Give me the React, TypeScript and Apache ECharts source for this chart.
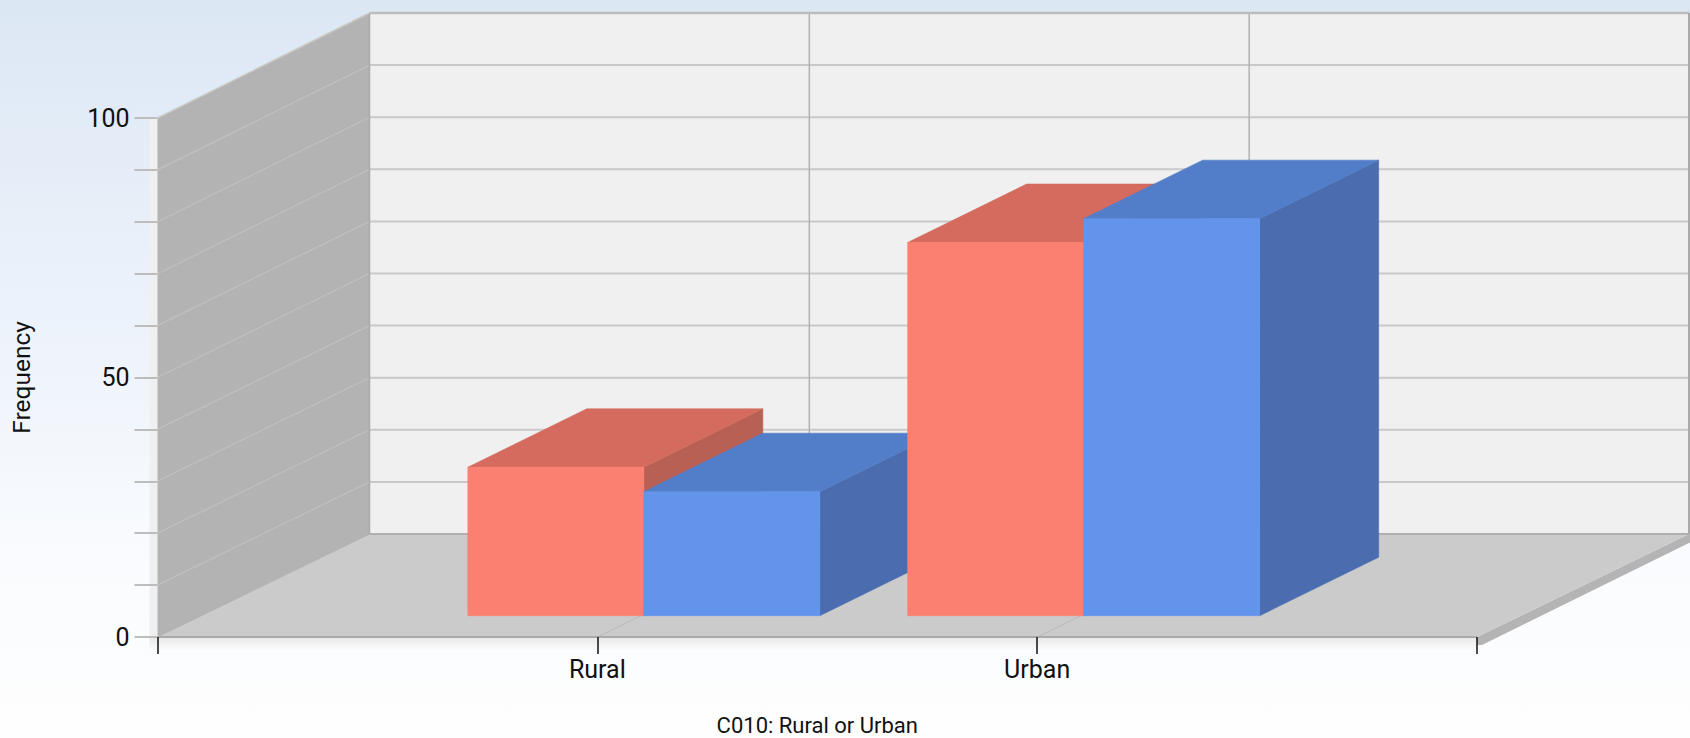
import React, { useEffect, useRef } from "react";
import * as echarts from "echarts";

const categories = ["", "Rural", "Urban", ""];
const yTickValues = [10, 20, 30, 40, 50, 60, 70, 80, 90];
const redValues = [28.6, 71.9];
const blueValues = [23.9, 76.5];

const WALL_DX = 212;
const WALL_DY_TOP = -105;
const WALL_DY_BOTTOM = -103;
const BAR_HALF = 176;
const BAR_SHIFT_X = 46.5;
const BAR_SHIFT_Y = -21.3;
const BAR_DX = 119;
const BAR_DY = -58.5;
const FONT = "Roboto, 'Liberation Sans', Arial, sans-serif";

function renderFrame(_p: any, api: any) {
  const [x0, y0] = api.coord([0, 0]);
  const [x1, y1] = api.coord([3, 100]);
  const dx = WALL_DX;
  const dt = WALL_DY_TOP;
  const db = WALL_DY_BOTTOM;
  const poly = (points: number[][], fill: string) => ({ type: "polygon", shape: { points }, style: { fill, stroke: "none" } });
  const line = (a: number[], b: number[], stroke: string, lineWidth: number) => ({
    type: "line",
    shape: { x1: a[0], y1: a[1], x2: b[0], y2: b[1] },
    style: { stroke, lineWidth, fill: "none" },
  });
  const children: any[] = [];
  // pale front edge strip and shadow under the floor
  children.push({ type: "rect", shape: { x: x0 - 8, y: y1, width: 8, height: y0 - y1 + 12 }, style: { fill: "#f0f0f0" } });
  children.push({
    type: "rect",
    shape: { x: x0 - 8, y: y0, width: x1 - x0 + 8, height: 12 },
    style: {
      fill: new echarts.graphic.LinearGradient(0, 0, 0, 1, [
        { offset: 0, color: "#e8e8e8" },
        { offset: 1, color: "#fafafa" },
      ]),
    },
  });
  // back wall
  children.push(poly([[x0 + dx, y1 + dt], [x1 + dx, y1 + dt], [x1 + dx, y0 + db], [x0 + dx, y0 + db]], "#f0f0f0"));
  // left wall
  children.push(poly([[x0, y1], [x0 + dx, y1 + dt], [x0 + dx, y0 + db], [x0, y0]], "#b3b3b3"));
  // floor edge and floor
  children.push(poly([[x1, y0], [x1 + dx + 2, y0 + db - 1], [x1 + dx + 2, y0 + db + 8], [x1 + 5, y0 + 8], [x1, y0 + 8]], "#b4b4b4"));
  children.push(poly([[x0, y0], [x1, y0], [x1 + dx, y0 + db], [x0 + dx, y0 + db]], "#cbcbcb"));
  for (const v of yTickValues) {
    const y = api.coord([0, v])[1];
    const d = db + ((dt - db) * v) / 100;
    children.push(line([x0 + dx, y + d], [x1 + dx, y + d], "#c9c9c9", 2));
    children.push(line([x0, y], [x0 + dx, y + d], "#c0c0c0", 1.2));
  }
  for (let i = 1; i < categories.length - 1; i++) {
    const x = api.coord([i, 0])[0];
    children.push(line([x + dx, y1 + dt], [x + dx, y0 + db], "#b2b2b2", 1.5));
    children.push(line([x, y0], [x + dx, y0 + db], "#bababa", 1));
  }
  children.push(line([x0 + dx, y1 + dt], [x1 + dx, y1 + dt], "#bcbcbc", 2.5));
  children.push(line([x1 + dx, y1 + dt], [x1 + dx, y0 + db], "#aaaaaa", 2));
  children.push(line([x0 + dx, y1 + dt], [x0 + dx, y0 + db], "#a9a9a9", 1.5));
  children.push(line([x0 + dx, y0 + db], [x1 + dx, y0 + db], "#b0b0b0", 2));
  children.push(line([x0, y1], [x0 + dx, y1 + dt], "#c8c8c8", 1.5));
  children.push(line([x0, y0], [x0 + dx, y0 + db], "#b0b0b0", 1));
  children.push(line([x0, y0], [x1, y0], "#aaaaaa", 2));
  return { type: "group", children };
}

const makeBarRenderer = (side: -1 | 1, front: string, top: string, flank: string) => (params: any, api: any) => {
  const cat = api.value(0);
  const val = api.value(1);
  const base = api.coord([cat, 0]);
  const head = api.coord([cat, val]);
  const xa = base[0] + BAR_SHIFT_X + (side < 0 ? -BAR_HALF : 0);
  const xb = xa + BAR_HALF;
  const yb = base[1] + BAR_SHIFT_Y;
  const yt = head[1] + BAR_SHIFT_Y;
  const z2 = cat * 10 + (side < 0 ? 0 : 5);
  const poly = (points: number[][], fill: string, extra: number) => ({
    type: "polygon",
    z2: z2 + extra,
    shape: { points },
    style: { fill, stroke: fill, lineWidth: 0.6, lineJoin: "miter" },
  });
  return {
    type: "group",
    children: [
      poly([[xb, yt], [xb + BAR_DX, yt + BAR_DY], [xb + BAR_DX, yb + BAR_DY], [xb, yb]], flank, 0),
      poly([[xa, yt], [xa + BAR_DX, yt + BAR_DY], [xb + BAR_DX, yt + BAR_DY], [xb, yt]], top, 1),
      poly([[xa, yt], [xb, yt], [xb, yb], [xa, yb]], front, 2),
    ],
  };
};

export default function App() {
  const ref = useRef<HTMLDivElement>(null);
  useEffect(() => {
    document.body.style.margin = "0";
    const chart = echarts.init(ref.current!, undefined, { renderer: "svg" });
    chart.setOption({
      animation: false,
      backgroundColor: new echarts.graphic.LinearGradient(0, 0, 0, 1, [
        { offset: 0, color: "#dce7f4" },
        { offset: 0.45, color: "#edf3fb" },
        { offset: 0.75, color: "#f9fbfe" },
        { offset: 1, color: "#fefefe" },
      ]),
      grid: { left: 157.5, right: 213, top: 118, bottom: 101, containLabel: false, outerBoundsMode: "none" },
      xAxis: {
        type: "category",
        data: categories,
        boundaryGap: false,
        name: "C010: Rural or Urban",
        nameLocation: "middle",
        nameGap: 77,
        nameTextStyle: { fontFamily: FONT, fontSize: 22, color: "#111" },
        axisLine: { show: false },
        axisTick: { show: true, length: 17, alignWithLabel: true, lineStyle: { color: "#111", width: 1.5 } },
        axisLabel: { interval: 0, margin: 20, fontFamily: FONT, fontSize: 25, color: "#111" },
        splitLine: { show: false },
      },
      yAxis: {
        type: "value",
        min: 0,
        max: 100,
        interval: 10,
        name: "Frequency",
        nameLocation: "middle",
        nameRotate: 90,
        nameGap: 124,
        nameTextStyle: { fontFamily: FONT, fontSize: 24.5, color: "#111" },
        axisLine: { show: false },
        axisTick: { show: true, length: 23, lineStyle: { color: "#bdbdbd", width: 2 } },
        axisLabel: {
          margin: 28,
          fontFamily: FONT,
          fontSize: 25,
          color: "#111",
          formatter: (v: number) => (v % 50 === 0 ? String(v) : ""),
        },
        splitLine: { show: false },
      },
      series: [
        { type: "custom", name: "frame", silent: true, z: -1, renderItem: renderFrame, data: [[0, 0]] },
        {
          type: "custom",
          name: "Series 1",
          z: 2,
          renderItem: makeBarRenderer(-1, "#fc8071", "#d46b5e", "#b96054"),
          encode: { x: 0, y: 1 },
          data: redValues.map((v, i) => [i + 1, v]),
        },
        {
          type: "custom",
          name: "Series 2",
          z: 2,
          renderItem: makeBarRenderer(1, "#6394ec", "#527dc8", "#4b6db0"),
          encode: { x: 0, y: 1 },
          data: blueValues.map((v, i) => [i + 1, v]),
        },
      ],
    });
    return () => chart.dispose();
  }, []);
  return <div ref={ref} style={{ width: 1690, height: 738 }} />;
}
